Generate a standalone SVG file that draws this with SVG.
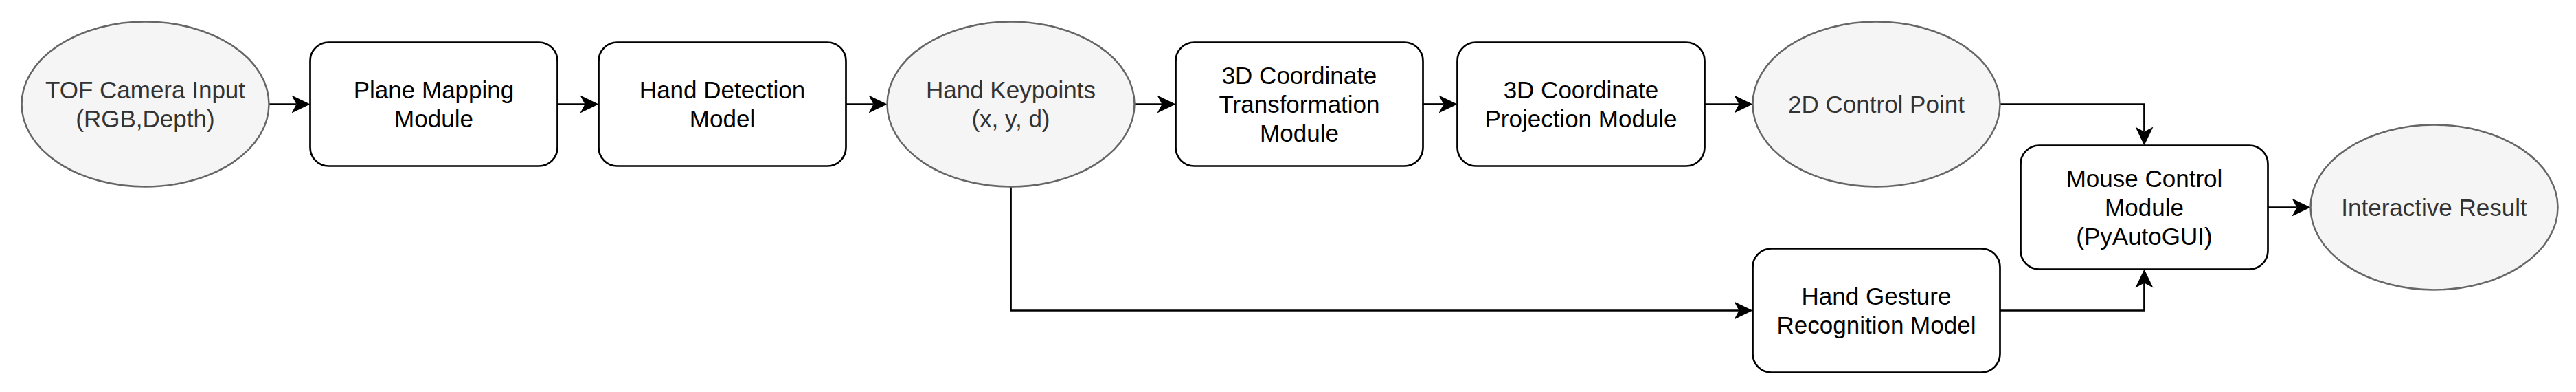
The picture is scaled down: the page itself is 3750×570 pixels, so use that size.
<svg xmlns="http://www.w3.org/2000/svg" width="3750" height="570" viewBox="0 0 3750 570">
<style>
.box{fill:#ffffff;stroke:#000000;stroke-width:2.7}
.ell{fill:#f5f5f5;stroke:#666666;stroke-width:2.5}
.t{font-family:"Liberation Sans",Arial,sans-serif;font-size:35px;text-anchor:middle;fill:#000000}
.te{font-family:"Liberation Sans",Arial,sans-serif;font-size:35px;text-anchor:middle;fill:#333333}
.c{fill:none;stroke:#000000;stroke-width:2.7;marker-end:url(#arr)}
</style>
<defs>
<marker id="arr" markerUnits="userSpaceOnUse" markerWidth="28" markerHeight="28" viewBox="0 0 28 28" refX="7" refY="14" orient="auto">
<path d="M0,1 L27,14 L0,27 L7,14 Z" fill="#000000"/>
</marker>
</defs>
<rect width="3750" height="570" fill="#ffffff"/>
<g id="connectors">
<path class="c" d="M391.5,151.5 H431.5"/>
<path class="c" d="M811.5,151.5 H851.5"/>
<path class="c" d="M1231.5,151.5 H1271.5"/>
<path class="c" d="M1651.5,151.5 H1691.5"/>
<path class="c" d="M2071.5,151.5 H2101.5"/>
<path class="c" d="M2481.5,151.5 H2531.5"/>
<path class="c" d="M2911.5,151.5 H3121.5 V191.5"/>
<path class="c" d="M1471.5,271.5 V451.5 H2531.5"/>
<path class="c" d="M2911.5,451.5 H3121.5 V411.5"/>
<path class="c" d="M3301.5,301.5 H3343.5"/>
</g>
<g id="tof-camera-input">
<ellipse class="ell" cx="211.5" cy="151.5" rx="180" ry="120"/>
<text class="te" x="211.5" y="142.5">TOF Camera Input</text>
<text class="te" x="211.5" y="184.5">(RGB,Depth)</text>
</g>
<g id="plane-mapping-module">
<rect class="box" x="451.5" y="61.5" width="360" height="180" rx="27" ry="27"/>
<text class="t" x="631.5" y="142.5">Plane Mapping</text>
<text class="t" x="631.5" y="184.5">Module</text>
</g>
<g id="hand-detection-model">
<rect class="box" x="871.5" y="61.5" width="360" height="180" rx="27" ry="27"/>
<text class="t" x="1051.5" y="142.5">Hand Detection</text>
<text class="t" x="1051.5" y="184.5">Model</text>
</g>
<g id="hand-keypoints">
<ellipse class="ell" cx="1471.5" cy="151.5" rx="180" ry="120"/>
<text class="te" x="1471.5" y="142.5">Hand Keypoints</text>
<text class="te" x="1471.5" y="184.5">(x, y, d)</text>
</g>
<g id="coordinate-transformation-module">
<rect class="box" x="1711.5" y="61.5" width="360" height="180" rx="27" ry="27"/>
<text class="t" x="1891.5" y="121.5">3D Coordinate</text>
<text class="t" x="1891.5" y="163.5">Transformation</text>
<text class="t" x="1891.5" y="205.5">Module</text>
</g>
<g id="coordinate-projection-module">
<rect class="box" x="2121.5" y="61.5" width="360" height="180" rx="27" ry="27"/>
<text class="t" x="2301.5" y="142.5">3D Coordinate</text>
<text class="t" x="2301.5" y="184.5">Projection Module</text>
</g>
<g id="control-point-2d">
<ellipse class="ell" cx="2731.5" cy="151.5" rx="180" ry="120"/>
<text class="te" x="2731.5" y="163.5">2D Control Point</text>
</g>
<g id="mouse-control-module">
<rect class="box" x="2941.5" y="211.5" width="360" height="180" rx="27" ry="27"/>
<text class="t" x="3121.5" y="271.5">Mouse Control</text>
<text class="t" x="3121.5" y="313.5">Module</text>
<text class="t" x="3121.5" y="355.5">(PyAutoGUI)</text>
</g>
<g id="interactive-result">
<ellipse class="ell" cx="3543.5" cy="301.5" rx="180" ry="120"/>
<text class="te" x="3543.5" y="313.5">Interactive Result</text>
</g>
<g id="hand-gesture-recognition-model">
<rect class="box" x="2551.5" y="361.5" width="360" height="180" rx="27" ry="27"/>
<text class="t" x="2731.5" y="442.5">Hand Gesture</text>
<text class="t" x="2731.5" y="484.5">Recognition Model</text>
</g>
</svg>
